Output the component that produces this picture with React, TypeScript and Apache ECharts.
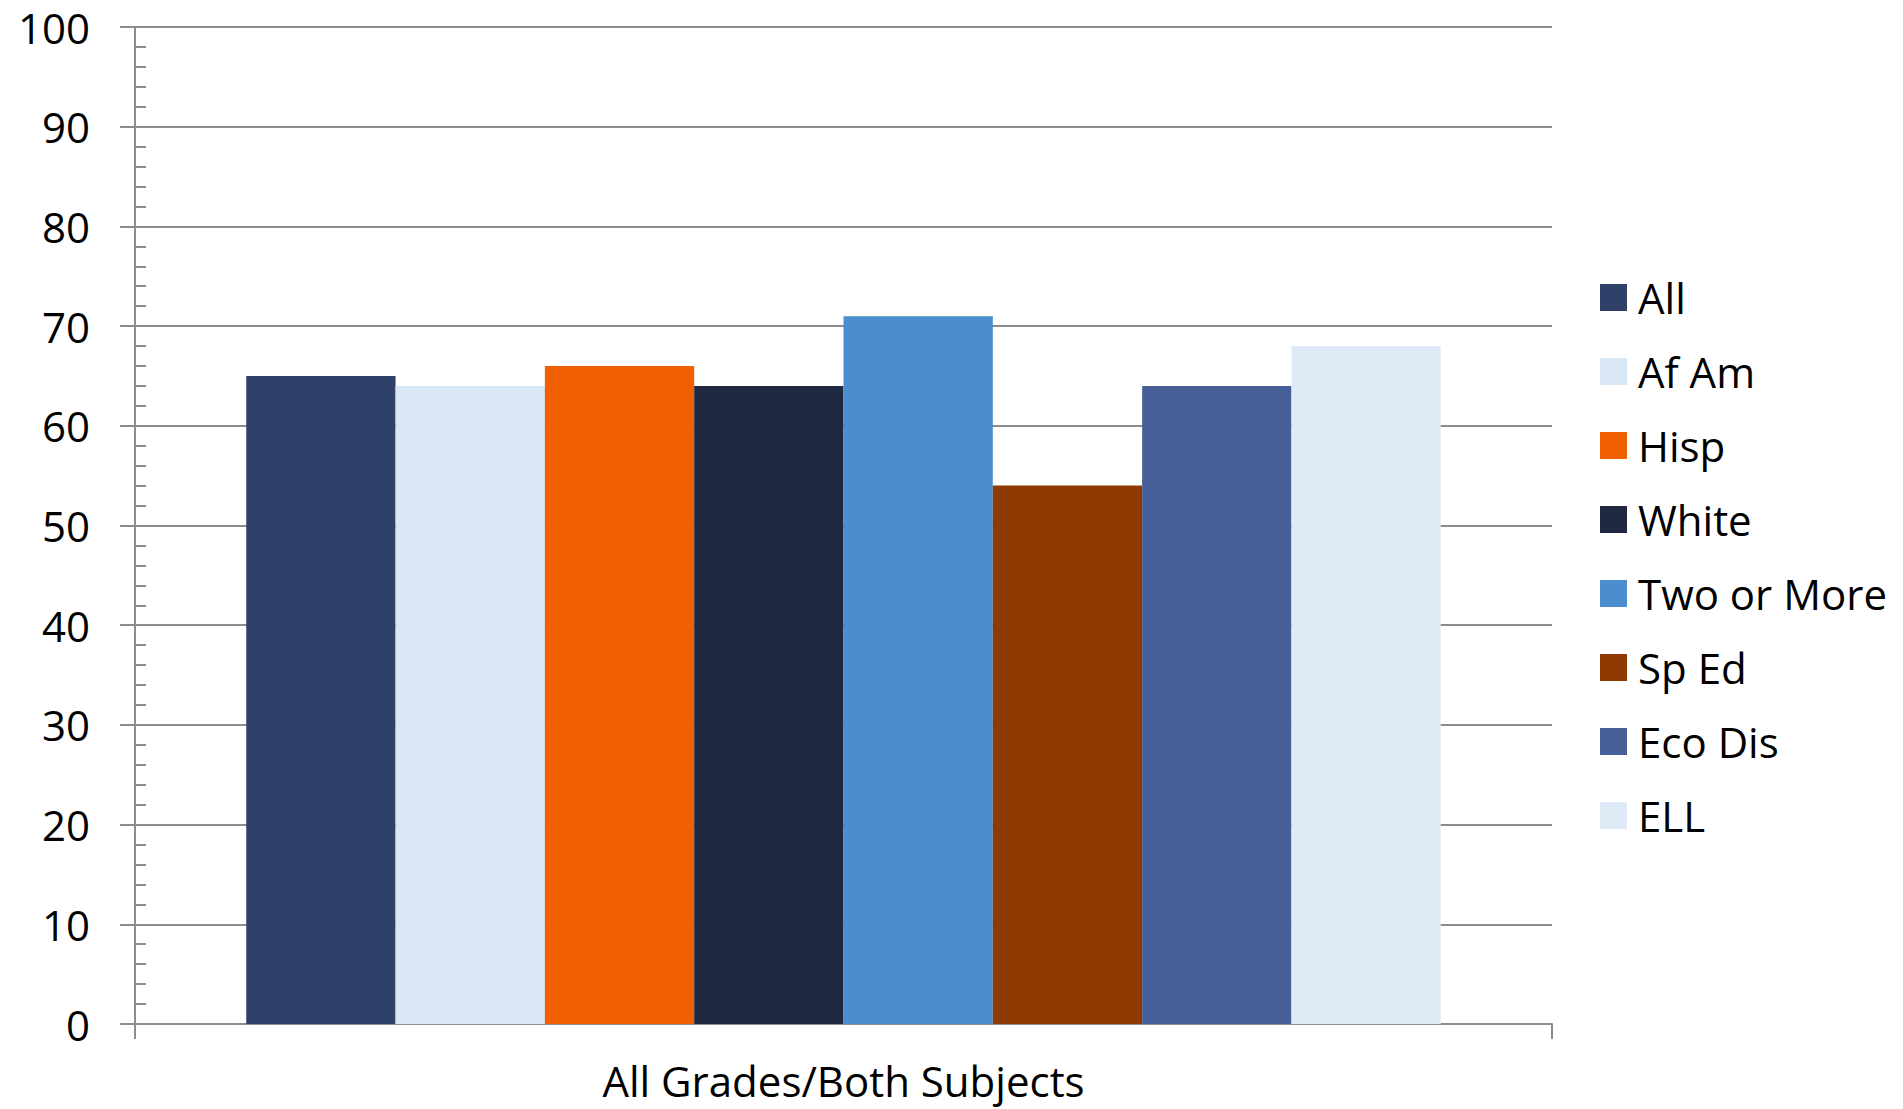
import React, { useEffect, useRef } from "react";
import * as echarts from "echarts";

const categories = ["All Grades/Both Subjects"];
const seriesNames = ["All", "Af Am", "Hisp", "White", "Two or More", "Sp Ed", "Eco Dis", "ELL"];
const seriesValues = [65, 64, 66, 64, 71, 54, 64, 68];
const seriesColors = ["#2F4169", "#D9E7F4", "#F06000", "#1F2840", "#4A8ECD", "#8E3A02", "#465F98", "#DEEBF6"];
const yMin = 0;
const yMax = 100;
const yInterval = 10;

const FONT = "'Open Sans', sans-serif";
const AXIS_COLOR = "#8C8C8C";

export default function App() {
  const ref = useRef<HTMLDivElement>(null);

  useEffect(() => {
    if (!ref.current) return;
    const chart = echarts.init(ref.current, null, { renderer: "svg" });
    const series = seriesNames.map((name, i) => ({
      name,
      type: "bar" as const,
      yAxisIndex: 0,
      data: [seriesValues[i]],
      itemStyle: { color: seriesColors[i] },
      barGap: "0%",
      barCategoryGap: "15.7%",
    }));
    chart.setOption({
      animation: false,
      backgroundColor: "#ffffff",
      grid: {
        left: 135,
        right: 351,
        top: 27,
        bottom: 85,
        containLabel: false,
        outerBoundsMode: "none",
      },
      legend: {
        orient: "vertical",
        left: 1600,
        top: 276.5,
        padding: 0,
        icon: "rect",
        itemWidth: 27,
        itemHeight: 27,
        itemGap: 32,
        data: seriesNames,
        textStyle: {
          fontFamily: FONT,
          fontSize: 42,
          color: "#000",
          lineHeight: 42,
          padding: [0, 0, 0, 6],
        },
      },
      xAxis: {
        type: "category",
        data: categories,
        boundaryGap: true,
        axisLine: { show: true, lineStyle: { color: AXIS_COLOR, width: 2 } },
        axisTick: { show: true, length: 15, lineStyle: { color: AXIS_COLOR, width: 2 } },
        axisLabel: {
          margin: 41,
          fontFamily: FONT,
          fontSize: 42,
          lineHeight: 30,
          color: "#000",
        },
      },
      yAxis: [
        {
          type: "value",
          position: "left",
          min: yMin,
          max: yMax,
          interval: yInterval,
          axisLine: { show: true, lineStyle: { color: AXIS_COLOR, width: 2 } },
          axisTick: { show: true, length: 15, lineStyle: { color: AXIS_COLOR, width: 2 } },
          splitLine: { show: true, lineStyle: { color: AXIS_COLOR, width: 2 } },
          axisLabel: {
            margin: 45,
            fontFamily: FONT,
            fontSize: 42,
            color: "#000",
          },
        },
        {
          type: "value",
          position: "left",
          min: yMin,
          max: yMax,
          interval: yInterval,
          axisLine: { show: false },
          axisTick: { show: false, inside: true },
          minorTick: {
            show: true,
            splitNumber: 5,
            length: 11,
            lineStyle: { color: AXIS_COLOR, width: 2 },
          },
          splitLine: { show: false },
          axisLabel: { show: false },
        },
      ],
      series,
    });
    return () => chart.dispose();
  }, []);

  return (
    <div
      ref={ref}
      style={{ position: "fixed", left: 0, top: 0, width: 1903, height: 1109, background: "#fff" }}
    />
  );
}
